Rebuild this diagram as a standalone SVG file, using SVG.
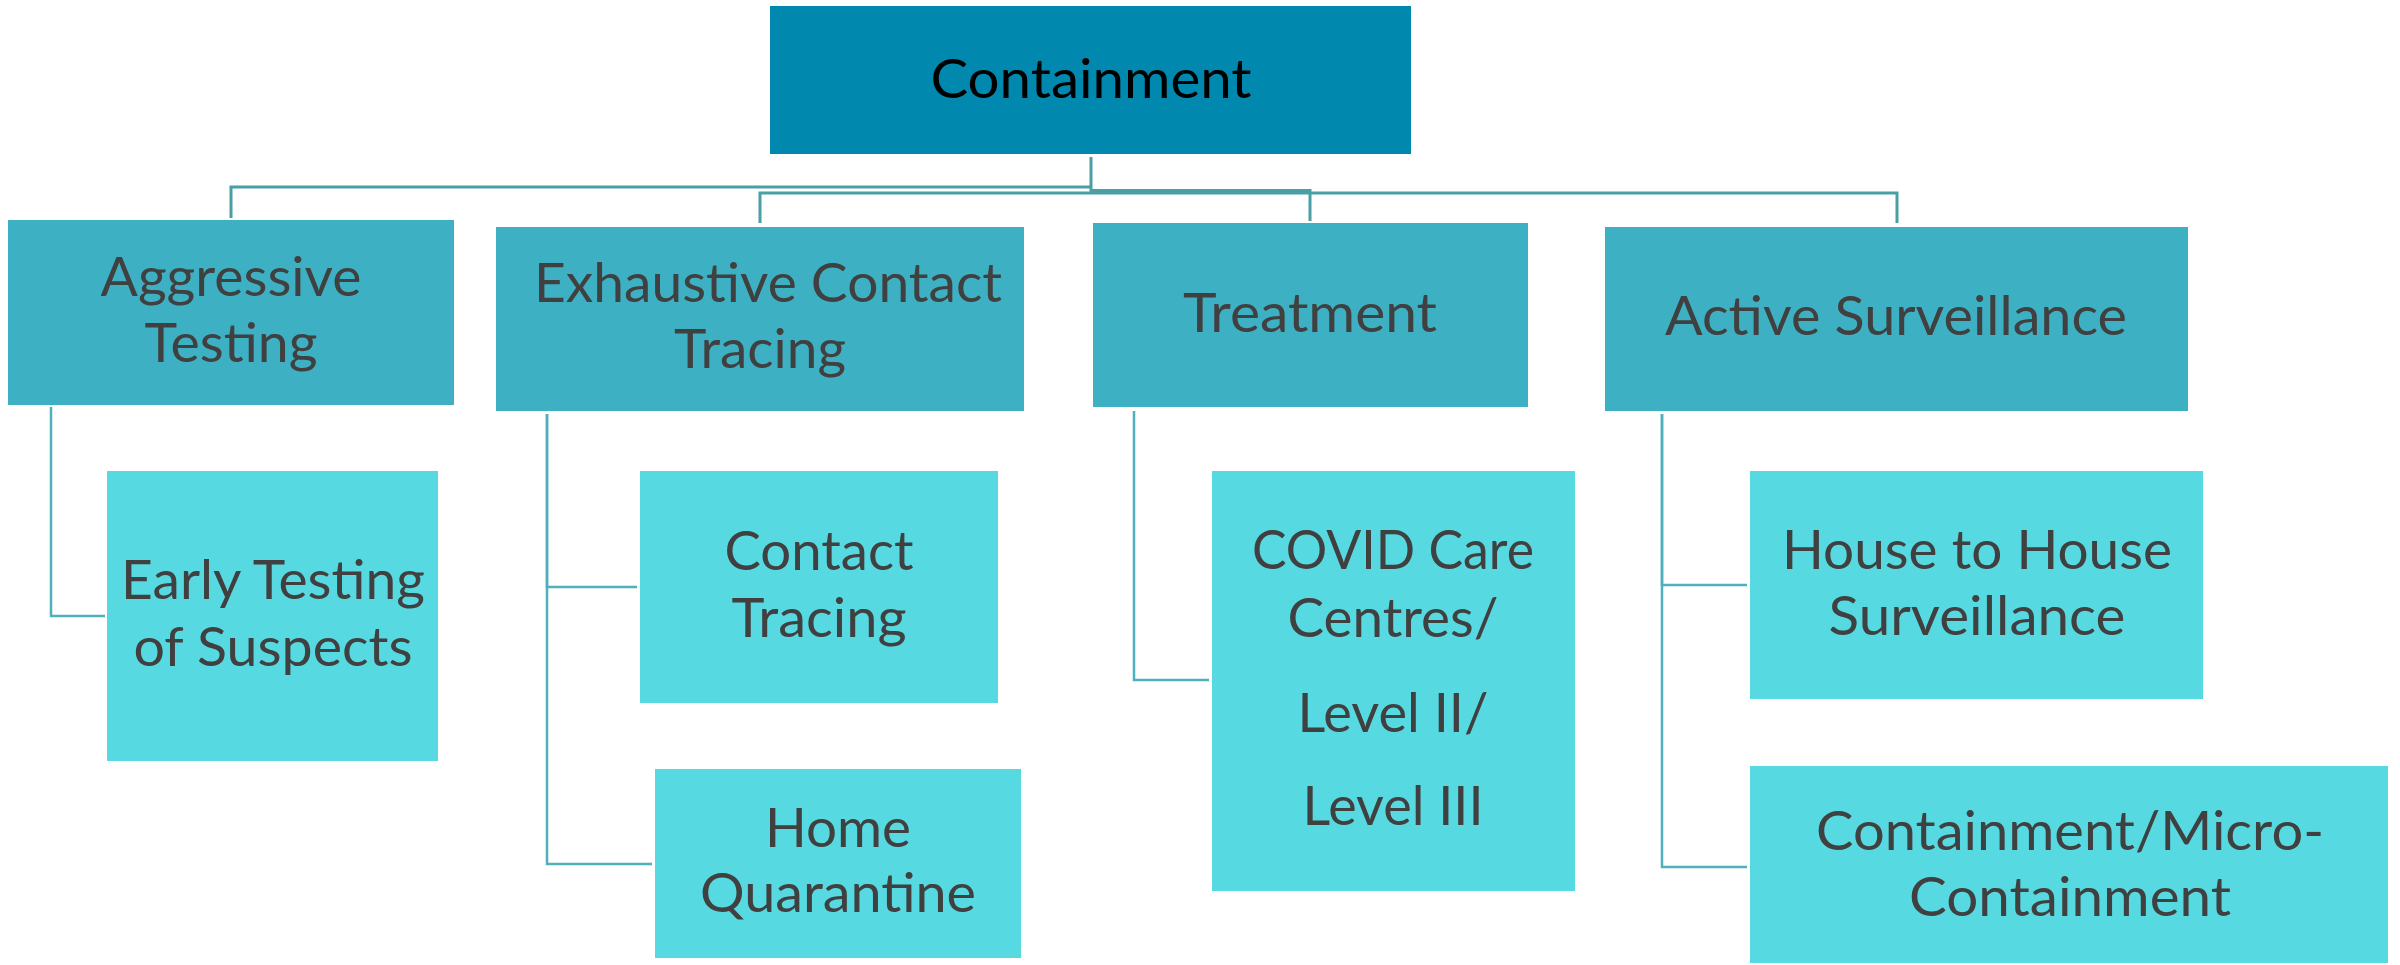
<svg xmlns="http://www.w3.org/2000/svg" width="2400" height="965" viewBox="0 0 2400 965">
  <style>
    .root { fill: #0188AE; }
    .l1 { fill: #3DB1C3; }
    .l2 { fill: #57D9E2; }
    .edge { stroke: #9ED9E2; stroke-width: 2; fill: none; }
    text { font-family: Lato, "Liberation Sans", sans-serif; font-size: 54px; text-anchor: middle; fill: #404040; }
    .dark { fill: #000000; }
    .c1 { fill: none; stroke: #4A9FA6; stroke-width: 3; }
    .c2 { fill: none; stroke: #4DB0BA; stroke-width: 2.5; }
  </style>
  <rect width="2400" height="965" fill="#ffffff"/>
  <g id="connectors">
    <path class="c1" d="M1091 157 V193"/>
    <path class="c1" d="M1091 187 H231 V218"/>
    <path class="c1" d="M1091 190.5 H1310 V221"/>
    <path class="c1" d="M1091 193 H760 V223"/>
    <path class="c1" d="M1091 193 H1897 V223"/>
    <path class="c2" d="M51 407 V616 H105"/>
    <path class="c2" d="M547 414 V587 H637"/>
    <path class="c2" d="M547 414 V864 H652"/>
    <path class="c2" d="M1134 411 V680 H1209"/>
    <path class="c2" d="M1662 414 V585 H1747"/>
    <path class="c2" d="M1662 414 V867 H1747"/>
  </g>
  <g id="containment">
    <rect class="root" x="770" y="6" width="641" height="148"/>
    <text class="dark" x="1091" y="98" textLength="321" lengthAdjust="spacingAndGlyphs">Containment</text>
  </g>
  <g id="aggressive-testing">
    <rect class="l1" x="8" y="220" width="446" height="185"/>
    <text x="231" y="296" textLength="261" lengthAdjust="spacingAndGlyphs">Aggressive</text>
    <text x="231" y="362" textLength="173" lengthAdjust="spacingAndGlyphs">Testing</text>
  </g>
  <g id="exhaustive-contact-tracing">
    <rect class="l1" x="496" y="227" width="528" height="184"/>
    <text x="768" y="302" textLength="468" lengthAdjust="spacingAndGlyphs">Exhaustive Contact</text>
    <text x="760" y="368" textLength="172" lengthAdjust="spacingAndGlyphs">Tracing</text>
  </g>
  <g id="treatment">
    <rect class="l1" x="1093" y="223" width="435" height="184"/>
    <text x="1310" y="332" textLength="254" lengthAdjust="spacingAndGlyphs">Treatment</text>
  </g>
  <g id="active-surveillance">
    <rect class="l1" x="1605" y="227" width="583" height="184"/>
    <text x="1896" y="335" textLength="462" lengthAdjust="spacingAndGlyphs">Active Surveillance</text>
  </g>
  <g id="early-testing">
    <rect class="l2" x="107" y="471" width="331" height="290"/>
    <text x="273" y="599" textLength="304" lengthAdjust="spacingAndGlyphs">Early Testing</text>
    <text x="273" y="666" textLength="279" lengthAdjust="spacingAndGlyphs">of Suspects</text>
  </g>
  <g id="contact-tracing">
    <rect class="l2" x="640" y="471" width="358" height="232"/>
    <text x="819" y="570" textLength="189" lengthAdjust="spacingAndGlyphs">Contact</text>
    <text x="819" y="637" textLength="175" lengthAdjust="spacingAndGlyphs">Tracing</text>
  </g>
  <g id="home-quarantine">
    <rect class="l2" x="655" y="769" width="366" height="189"/>
    <text x="838" y="847" textLength="146" lengthAdjust="spacingAndGlyphs">Home</text>
    <text x="838" y="912" textLength="276" lengthAdjust="spacingAndGlyphs">Quarantine</text>
  </g>
  <g id="covid-care-centres">
    <rect class="l2" x="1212" y="471" width="363" height="420"/>
    <text x="1393" y="569" textLength="282" lengthAdjust="spacingAndGlyphs">COVID Care</text>
    <text x="1393" y="637" textLength="211" lengthAdjust="spacingAndGlyphs">Centres/</text>
    <text x="1393" y="732" textLength="191" lengthAdjust="spacingAndGlyphs">Level II/</text>
    <text x="1393" y="825" textLength="181" lengthAdjust="spacingAndGlyphs">Level III</text>
  </g>
  <g id="house-to-house">
    <rect class="l2" x="1750" y="471" width="453" height="228"/>
    <text x="1977" y="569" textLength="390" lengthAdjust="spacingAndGlyphs">House to House</text>
    <text x="1977" y="635" textLength="297" lengthAdjust="spacingAndGlyphs">Surveillance</text>
  </g>
  <g id="micro-containment">
    <rect class="l2" x="1750" y="766" width="638" height="197"/>
    <text x="2070" y="850" textLength="508" lengthAdjust="spacingAndGlyphs">Containment/Micro-</text>
    <text x="2070" y="916" textLength="322" lengthAdjust="spacingAndGlyphs">Containment</text>
  </g>
</svg>
